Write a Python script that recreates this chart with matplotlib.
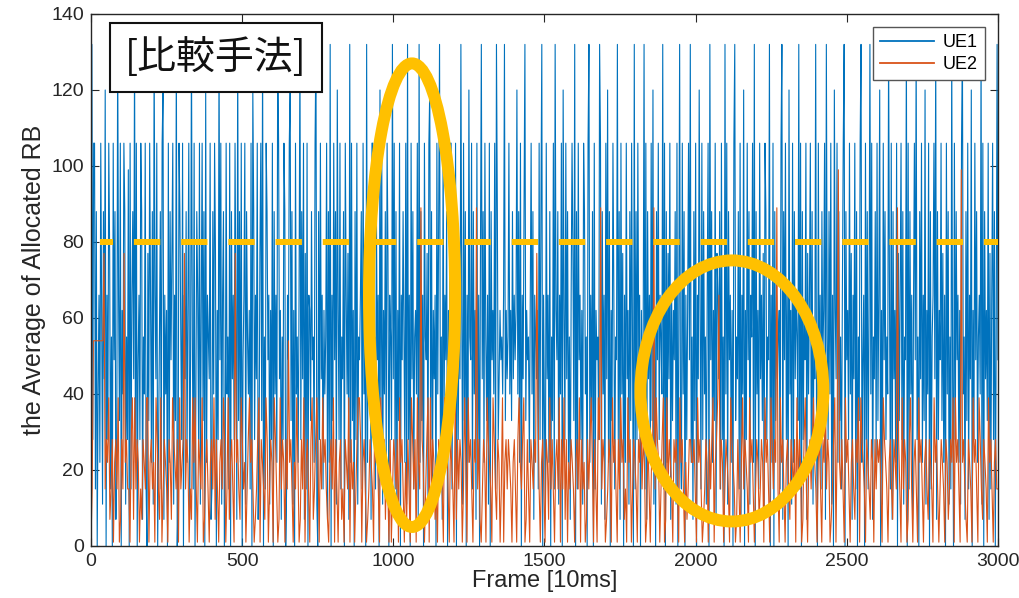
import numpy as np
import matplotlib
matplotlib.use("Agg")
import matplotlib.pyplot as plt
from matplotlib.patches import Ellipse

plt.rcParams['font.family'] = ['Liberation Sans', 'DejaVu Sans']
plt.rcParams['lines.scale_dashes'] = False

# allocated RB levels, one character per sample
ue1_levels = {'0': 0, '1': 7, '2': 11, '3': 15, '4': 22, '5': 28, '6': 33, '7': 40,
              '8': 44, '9': 49, 'a': 55, 'b': 62, 'c': 66, 'd': 77, 'e': 88, 'f': 99,
              'g': 106, 'h': 110, 'i': 120, 'j': 132}
ue2_levels = {'0': 1, '1': 7, '3': 15, '4': 22, '5': 28, '7': 39, 'x': 54,
              'c': 66, 'e': 77, 'h': 89, 'k': 99}

ue1_code = (
    "0j5gg3e07c4gb2e8i0c5gd3a0g9e14jc6g0b7ge2a5f0g3ce8j4"
    "g09c5ge1a7g30d6gb4e2jc8g05ae3gi1c7b0g4e9dg2c6j03gea"
    "5g0c8e4bg19ja3g07ec5g2bg6e0i4ca8g13e7gd0b5j9g2ce04g"
    "7a3g0e8c5gb1j6e4g09cg2ea7b3g0ie5c8g14dg6j0a3ge9c2b5"
    "g0e7c4jg8b1a5ge03c9gi6e2b0g7a4cj5e8g1d3g0cb6e9a4gj2"
    "0e5g8c3b7ag1e4j0c6g9e2ib5g3a8e0gc7d1j4g6b0e5g2a9ce3"
    "g7b0j4e8c1gg5a3e9c0i6g2b7e4gd0ca5j8g3e1b6g0c9ea4g2j"
    "5c0g8e3ab7g1j4e6c0ga9d2gi5e3b8c0g7ej4a1g6c9e0b5gg3a"
    "a7g0e5c8jb2g6e0c4ia9g3e7b1g5c0dj8e4ga6c2g0e9b7g3je5"
    "8b9a7cj6b8ag7b6e8c9bi7e4g0c8ej6b9a4cg7e1ca8b3g5ej0c6"
    "1g8c4e0a6g3jb9e2c7g0ib5g8e4a1cgd6j0e3g9c5b2ge7a0gj4"
    "c6e0g3b9a5jg2e7c1g8i4e0b6gc3a9j5e1g7d0c4g8b2e6ga0j3"
    "e5g9c0b7aj3g1e8c4g6i2b0e9g5ca7j3g0e4d8g1c6b9e2g0aj5"
    "3g7e0c5bg9j4a1e6g0c8ib3g5e7a2cg0j9e4b6g1dc8e3g5a0j7"
    "g2e9c4b0gj6a8e3g1c7i0b5g9e2cag4j0e7b3g8c6d1ge5a9j0c"
    "4g0e6c8ab3gj1e9g5c0i7b2g4e8ca6j3g0e5b9g1d7cg4e2a8j5"
    "0g6c3e9bg1ja5e7g2c0ib8g4e6a3cgj0e9b5g7d1c8g3e0a6gj4"
    "9c0g5e3bj7g1a8e4g6ci0b2g9e5a7jc3g1e8b4g0d6cg5e2a9j0"
    "g3e7c1bg9j5a0e8g4c6i2b7g0e3acg8j1e5b9g6d4c0g7e2a3j8"
    "0g5e9c4b2gj7a1e6g3c8i0b5g9e4ac7j2g0e8b6g1d3cg5e0aj9"
)
ue2_code = (
    "03xxxxxxxxxe3547135045370153e4533057173540315437704"
    "5340753170354305417543507345e35403174730543701453"
    "0453715304537503714530e4531753403574530135705431750"
    "3540753017354053x4530437401537045305713574053745310"
    "4537053045130543705340357750453013543074530753514305"
    "0354350745304153075350743h540357073541305453074530"
    "5430715354037407453054h3510354075430753154037045354"
    "3045305743570153054354e7304530541735304537053715043"
    "5430453705340153574053075h3540135407453053745130745"
    "0354305473540153045h37540357017354305453074530413554"
    "4530745301354053570457c35403543075430153047354307453"
    "0354135407453075354h30745304531543507354015730453574"
    "3045305473540135705k435307453045315470754305431540535"
    "4530754304531543h5307354015730453074530453154307453"
    "0354305413547074530k4531054307453075315430745304533"
)

ue1 = np.array([ue1_levels[c] for c in ue1_code])
ue2 = np.array([ue2_levels[c] for c in ue2_code])
frames1 = np.linspace(0, 3000, len(ue1))
frames2 = np.linspace(0, 3000, len(ue2))

fig = plt.figure(figsize=(10.2, 5.98), dpi=100)
ax = fig.add_axes([0.0892, 0.087, 0.8892, 0.8896])

ax.plot(frames1, ue1, color='#0072BD', lw=0.8, label='UE1')
ax.plot(frames2, ue2, color='#D95319', lw=0.8, label='UE2')

ax.set_xlim(0, 3000)
ax.set_ylim(0, 140)
ax.set_xticks(np.arange(0, 3001, 500))
ax.set_yticks(np.arange(0, 141, 20))
ax.tick_params(direction='in', top=True, right=True, length=6, width=0.8,
               labelsize=14, colors='#262626', pad=5)
for s in ax.spines.values():
    s.set_color('#262626')
    s.set_linewidth(1.0)

ax.set_xlabel('Frame [10ms]', fontsize=17, color='#262626', labelpad=0)
ax.set_ylabel('the Average of Allocated RB', fontsize=18, color='#262626', labelpad=4)

leg = ax.legend(loc='upper right', fontsize=13, handlelength=3.0, fancybox=False,
                framealpha=1, edgecolor='#555555', borderaxespad=0.7,
                borderpad=0.4, labelspacing=0.3, handletextpad=0.5)
leg.get_frame().set_linewidth(1.0)
for h in leg.get_lines():
    h.set_linewidth(1.3)
leg.set_zorder(8)

# annotations
ax.plot([30, 3000], [80, 80], color='#FFC000', lw=4.3, zorder=5,
        linestyle=(9.6, (19, 15)), dash_capstyle='butt')
ax.add_patch(Ellipse((1062, 66), 285, 122, fill=False, ec='#FFC000', lw=8.6, zorder=5))
ax.add_patch(Ellipse((2120, 40.8), 605, 68.7, fill=False, ec='#FFC000', lw=8.6, zorder=5))

ax.text(0.1378, 0.918, '[比較手法]', transform=ax.transAxes, ha='center', va='center',
        fontsize=28, family=['Noto Sans CJK JP', 'DejaVu Sans'], color='#111111', zorder=6,
        bbox=dict(boxstyle='square,pad=0.38', fc='white', ec='#111111', lw=1.5))

fig.savefig('out.png', dpi=100)
